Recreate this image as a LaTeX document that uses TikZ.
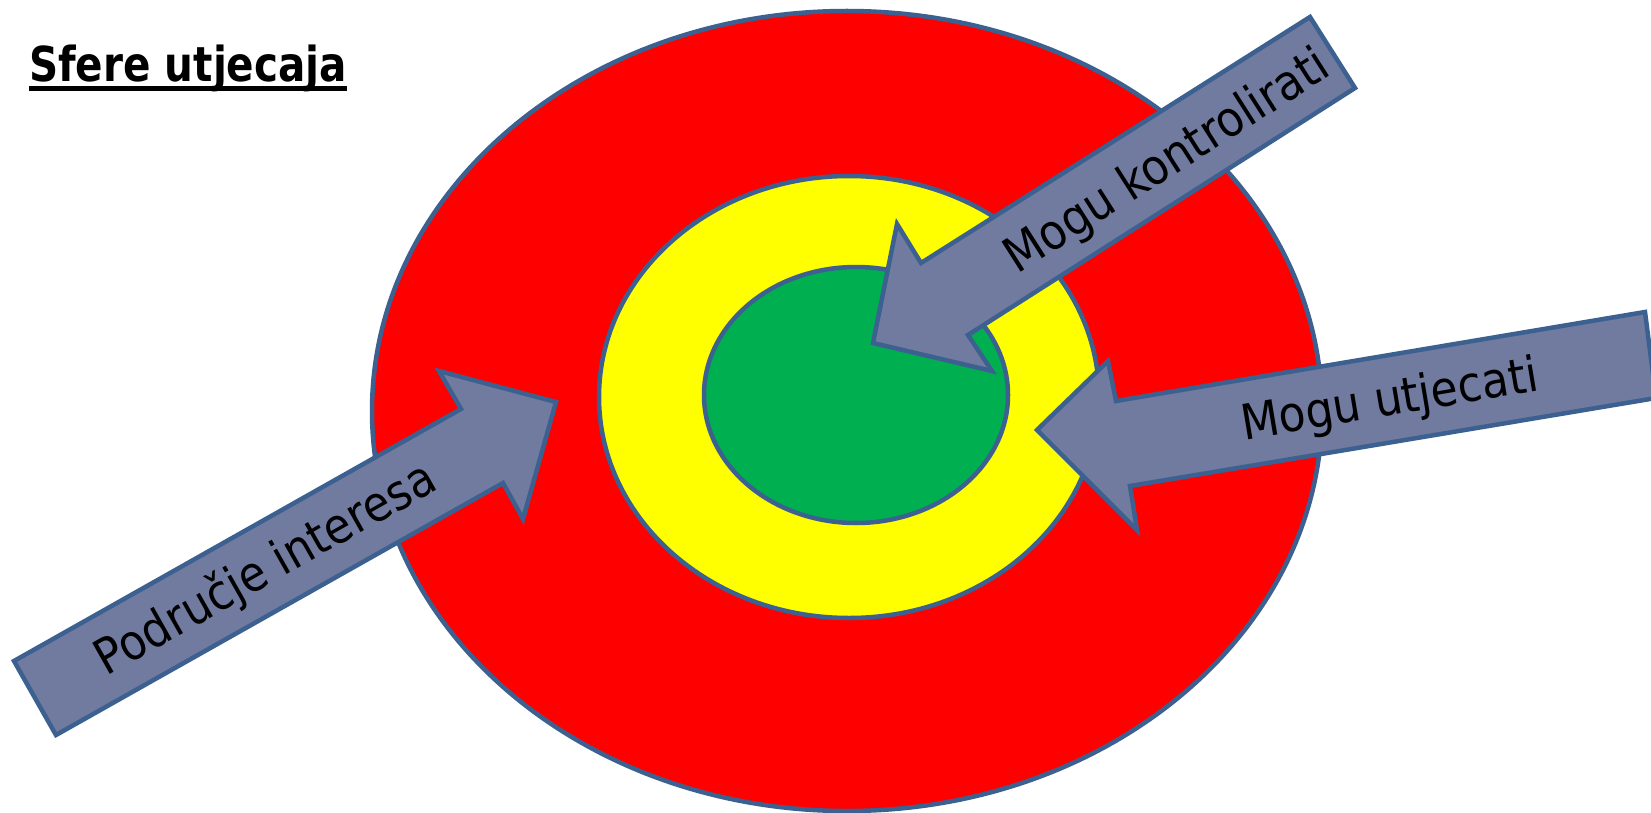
\documentclass[tikz,border=0pt]{standalone}
\usepackage{fontspec}
\setmainfont{DejaVu Sans Condensed}
\definecolor{rub}{HTML}{3C6190}
\definecolor{strelica}{HTML}{717BA0}
\definecolor{crvena}{HTML}{FF0000}
\definecolor{zuta}{HTML}{FFFF00}
\definecolor{zelena}{HTML}{00B050}
\tikzset{
  sfera/.style={draw=rub,line width=4.5pt},
  strela/.style={draw=rub,fill=strelica,line width=4.5pt,line join=miter},
  natpis/.style={font=\fontsize{49}{49}\selectfont,inner sep=0pt}
}
\begin{document}
\begin{tikzpicture}[x=1pt,y=-1pt]
\useasboundingbox[fill=white] (0,0) rectangle (1651,813);

% sfere
\draw[sfera,fill=crvena] (847,411) ellipse (475 and 400);
\draw[sfera,fill=zuta] (849,397) ellipse (250 and 221);
\draw[sfera,fill=zelena] (856,395) ellipse (152 and 128);

% strelice
\draw[strela] (1310,17) -- (1355,88) -- (968,335) -- (992,371) -- (873,343) -- (897,224) -- (921,263) -- cycle;
\draw[strela] (1645,312) -- (1656,398) -- (1130,486) -- (1137,530) -- (1037,430) -- (1108,361) -- (1116,401) -- cycle;
\draw[strela] (14,661) -- (461,409) -- (439,371) -- (556,402) -- (523,519) -- (503,483) -- (56,735) -- cycle;

\node[natpis,rotate=32.5] (kontrola) at (1168,163) {Mogu kontrolirati};
\node[natpis,rotate=9.5] (utjecaj) at (1390,402) {Mogu utjecati};
\node[natpis,rotate=29.5] (interes) at (266,570) {Područje interesa};

% naslov
\node[font=\bfseries\fontsize{45}{45}\selectfont,yscale=1.07,inner sep=0pt,anchor=base west] (naslov) at (29,82) {Sfere utjecaja};
\draw[line width=5pt] ([yshift=-6.5pt]naslov.base west) -- ([yshift=-6.5pt]naslov.base east);
\end{tikzpicture}
\end{document}
